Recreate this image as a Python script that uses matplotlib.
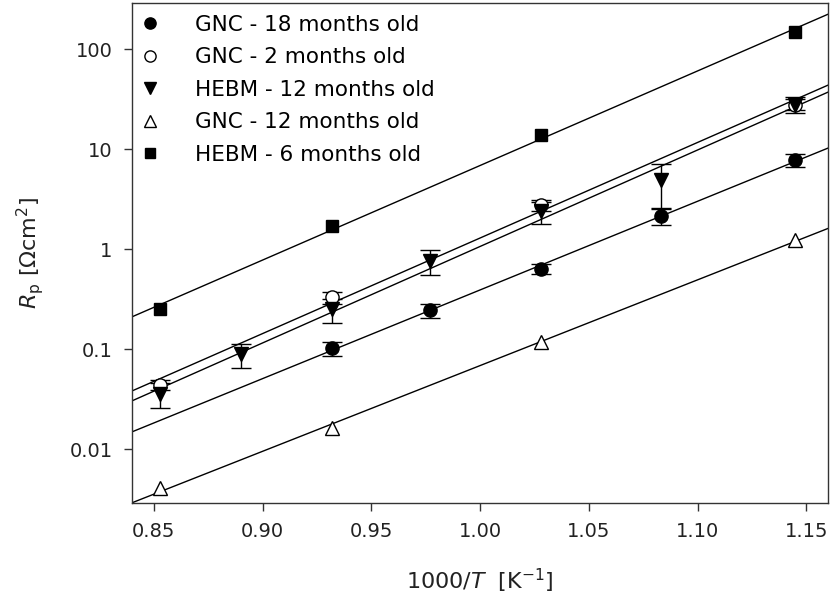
import numpy as np
import matplotlib
matplotlib.use('Agg')
import matplotlib.pyplot as plt
from matplotlib.ticker import FixedLocator, FixedFormatter, NullLocator

plt.rcParams['font.family'] = ['DejaVu Sans']
plt.rcParams['mathtext.fontset'] = 'dejavusans'

# 1000/T values and polarisation resistance Rp [Ohm cm2]
x_gnc18 = [0.932, 0.977, 1.028, 1.083, 1.145]
y_gnc18 = [0.102, 0.245, 0.64, 2.15, 7.8]
e_gnc18 = [0.016, 0.04, 0.08, 0.4, 1.2]

x_gnc2 = [0.853, 0.932, 1.028, 1.145]
y_gnc2 = [0.044, 0.33, 2.75, 28.0]
e_gnc2 = [0.005, 0.045, 0.35, 3.5]

x_hebm12 = [0.853, 0.890, 0.932, 0.977, 1.028, 1.083, 1.145]
y_hebm12 = [0.036, 0.089, 0.25, 0.77, 2.4, 4.9, 28.0]
e_hebm12 = [0.01, 0.024, 0.065, 0.22, 0.6, 2.3, 5.0]

x_gnc12 = [0.853, 0.932, 1.028, 1.145]
y_gnc12 = [0.0041, 0.0162, 0.117, 1.25]

x_hebm6 = [0.853, 0.932, 1.028, 1.145]
y_hebm6 = [0.255, 1.70, 13.8, 150.0]

labels = ['GNC - 18 months old', 'GNC - 2 months old', 'HEBM - 12 months old',
          'GNC - 12 months old', 'HEBM - 6 months old']

xticks = [0.85, 0.90, 0.95, 1.00, 1.05, 1.10, 1.15]
yticks = [0.01, 0.1, 1, 10, 100]
ytick_labels = ['0.01', '0.1', '1', '10', '100']

fig = plt.figure(figsize=(8.31, 6.01), dpi=100)
ax = fig.add_axes([0.159, 0.163, 0.8374, 0.832])
ax.set_yscale('log')
ax.set_xlim(0.84, 1.16)
ax.set_ylim(0.0029, 290)

series = [
    (x_gnc18, y_gnc18, e_gnc18, dict(marker='o', ms=9.5, mfc='black', mec='black')),
    (x_gnc2, y_gnc2, e_gnc2, dict(marker='o', ms=9.5, mfc='white', mec='black', mew=1.0)),
    (x_hebm12, y_hebm12, e_hebm12, dict(marker='v', ms=10, mfc='black', mec='black')),
    (x_gnc12, y_gnc12, None, dict(marker='^', ms=10, mfc='white', mec='black', mew=1.0)),
    (x_hebm6, y_hebm6, None, dict(marker='s', ms=8, mfc='black', mec='black')),
]

xfit = np.array([0.84, 1.16])
handles = []
for (xs, ys, es, style), lab in zip(series, labels):
    xs = np.array(xs)
    ys = np.array(ys)
    # Arrhenius fit in log space
    b, a = np.polyfit(xs, np.log10(ys), 1)
    ax.plot(xfit, 10 ** (a + b * xfit), color='black', lw=1.0, zorder=2)
    if es is not None:
        ax.errorbar(xs, ys, yerr=es, fmt='none', ecolor='black', elinewidth=1.0,
                    capsize=7, capthick=1.0, zorder=3)
    h, = ax.plot(xs, ys, linestyle='none', label=lab, zorder=4, **style)
    handles.append(h)

leg = ax.legend(handles=handles, loc='upper left', frameon=False, fontsize=15.5,
                handlelength=1.0, handletextpad=1.6, labelspacing=0.58,
                borderaxespad=0.15, bbox_to_anchor=(-0.007, 1.0))
for h in leg.legend_handles:
    h.set_markersize(h.get_markersize() * 0.85)

ax.yaxis.set_major_locator(FixedLocator(yticks))
ax.yaxis.set_major_formatter(FixedFormatter(ytick_labels))
ax.yaxis.set_minor_locator(NullLocator())
ax.set_xticks(xticks)
ax.set_xticklabels(['%.2f' % t for t in xticks])

ax.tick_params(axis='both', direction='out', length=6, width=1.0,
               labelsize=14, pad=8, color='#333333', labelcolor='#222222')
ax.tick_params(top=False, right=False)
for sp in ax.spines.values():
    sp.set_linewidth(1.0)
    sp.set_color('#333333')

ax.set_xlabel(r'1000/$\mathit{T}$  [K$^{\mathrm{-1}}$]', fontsize=16, labelpad=18, color='#222222')
ax.set_ylabel(r'$\mathit{R}_{\mathrm{p}}$ [$\Omega$cm$^{2}$]', fontsize=16, labelpad=17, color='#222222')

fig.savefig('out.png', dpi=100)
